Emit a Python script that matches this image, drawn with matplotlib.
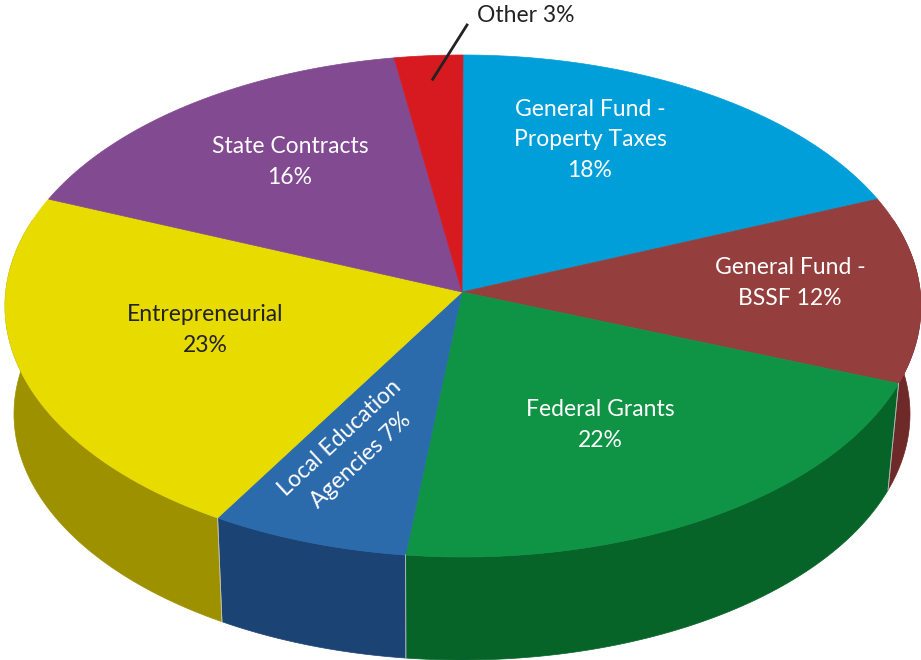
import numpy as np
import matplotlib.pyplot as plt
from matplotlib.patches import Polygon

plt.rcParams['font.family'] = ['Lato', 'DejaVu Sans']

# slices, clockwise from 12 o'clock
labels = ['General Fund -\nProperty Taxes\n18%', 'General Fund -\nBSSF 12%',
          'Federal Grants\n22%', 'Local Education\nAgencies 7%',
          'Entrepreneurial\n23%', 'State Contracts\n16%', 'Other 3%']
shares = [18.0, 12.0, 22.0, 7.0, 23.0, 15.6, 2.4]

top_colors = ['#009fda', '#943f3d', '#0f9345', '#2b6aab', '#e8db00', '#814a91', '#d71920']
side_colors = ['#006f99', '#6e2a28', '#066429', '#1b4474', '#9e9100', '#5a3366', '#96111a']
text_colors = ['white', 'white', 'white', 'white', '#222222', 'white', '#222222']

# label layout (pixel centres, rotation)
label_pos = [(590, 140), (790, 283), (600, 425), (350, 449), (205, 330), (290, 162), (526, 15)]
label_rot = [0, 0, 0, 43, 0, 0, 0]

W, H = 921, 660
fig = plt.figure(figsize=(W / 100, H / 100), dpi=100)
ax = fig.add_axes([0, 0, 1, 1])
ax.set_xlim(0, W)
ax.set_ylim(H, 0)
ax.axis('off')

# tilted disc geometry in pixels
top_rim = (463, 306, 458, 251)
bot_rim = (462, 414, 448, 246)
apex = np.array([[462, 292]])


def rim(theta, c):
    t = np.radians(theta)
    return np.column_stack([c[0] + c[2] * np.sin(t), c[1] - c[3] * np.cos(t)])


bounds = np.concatenate([[0], np.cumsum(shares)]) / sum(shares) * 360

# side walls (front half only)
for i in range(len(shares)):
    a, b = max(bounds[i], 70), min(bounds[i + 1], 290)
    if a >= b:
        continue
    t = np.linspace(a, b, 120)
    pts = np.vstack([rim(t, top_rim), rim(t[::-1], bot_rim)])
    ax.add_patch(Polygon(pts, closed=True, fc=side_colors[i], ec=side_colors[i], lw=0.5))
    for edge in (a, b):
        if 90 < edge < 270:
            seg = np.vstack([rim([edge], top_rim), rim([edge], bot_rim)])
            ax.plot(seg[:, 0], seg[:, 1], color='#c8c8c8', lw=0.6, alpha=0.7)

# top faces
for i in range(len(shares)):
    t = np.linspace(bounds[i], bounds[i + 1], 150)
    pts = np.vstack([apex, rim(t, top_rim)])
    ax.add_patch(Polygon(pts, closed=True, fc=top_colors[i], ec=top_colors[i], lw=0.5))

# labels
for i, lab in enumerate(labels):
    x, y = label_pos[i]
    ax.text(x, y, lab, ha='center', va='center', multialignment='center',
            color=text_colors[i], fontsize=16.5, rotation=label_rot[i],
            rotation_mode='anchor', linespacing=1.55)

# leader line for the small slice
mid = (bounds[-2] + bounds[-1]) / 2
p = rim([mid], (apex[0, 0], apex[0, 1], 458 * 0.85, 251 * 0.85))[0]
ax.plot([p[0], 467], [p[1], 25], color='#222222', lw=2)

fig.savefig('out.png', dpi=100)
